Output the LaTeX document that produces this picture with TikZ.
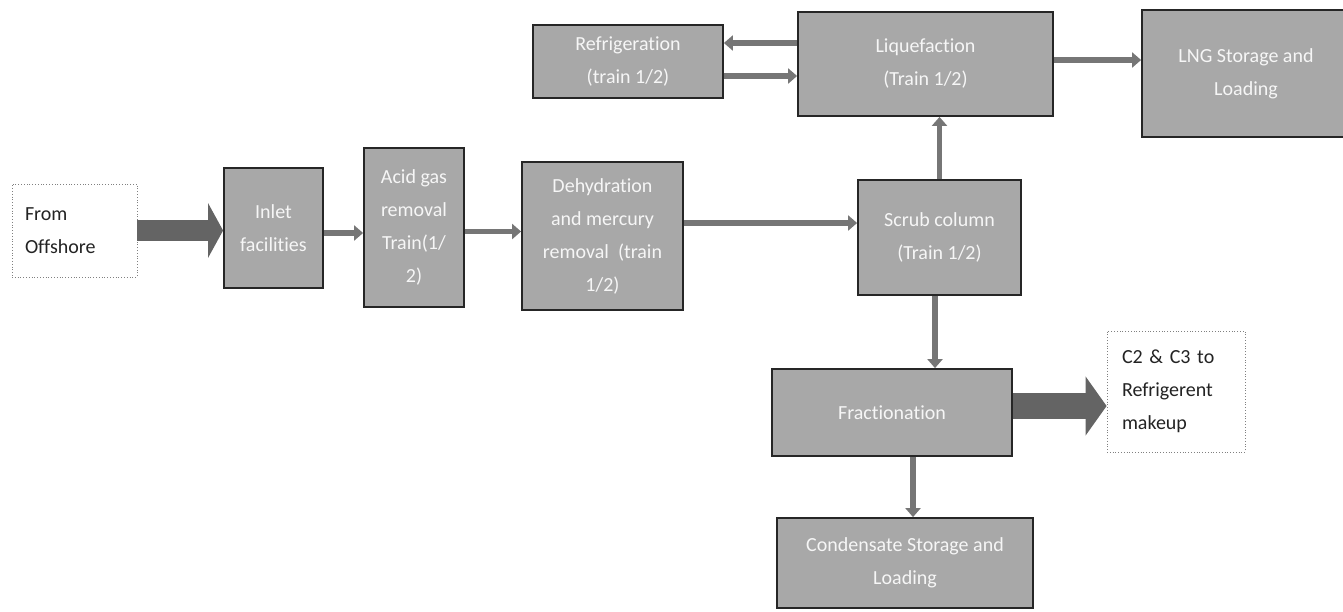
\documentclass[tikz,border=0pt]{standalone}
\usepackage{fontspec}
\setmainfont[Ligatures=NoCommon]{Carlito}
\usetikzlibrary{arrows.meta}
\definecolor{boxgray}{RGB}{168,168,168}
\definecolor{boxtext}{RGB}{246,246,246}
\definecolor{conn}{RGB}{118,118,118}
\definecolor{bigarrow}{RGB}{100,100,100}
\definecolor{txtdark}{RGB}{35,35,35}
\begin{document}
\begin{tikzpicture}[x=1pt,y=-1pt,
  procbox/.style={draw=black!85, line width=1.8pt, fill=boxgray, text=boxtext, align=center, inner sep=0pt, font=\fontsize{20}{33}\selectfont},
  notebox/.style={draw=gray, dotted, line width=0.8pt, fill=white, text=txtdark, align=left, inner sep=0pt, font=\fontsize{20}{33}\selectfont},
  flow/.style={draw=conn, line width=5.5pt, -{Triangle[length=9pt,width=15pt]}},
  bigflowA/.style={draw=bigarrow, line width=21pt, -{Triangle[length=15pt,width=54pt]}},
  bigflowB/.style={draw=bigarrow, line width=26pt, -{Triangle[length=21pt,width=58pt]}}]
\path[use as bounding box, clip] (0,0) rectangle (1343,611);

\node[notebox, minimum width=125pt, minimum height=93pt, text width=99pt] (off) at (74.5,230.5) {From\\Offshore};
\node[procbox, minimum width=99pt, minimum height=120pt] (inlet) at (273.5,228) {Inlet\\facilities};
\node[procbox, minimum width=100pt, minimum height=159pt] (acid) at (414,227.5) {Acid gas\\removal\\Train(1/\\2)};
\node[procbox, minimum width=161pt, minimum height=148pt] (dehyd) at (602.5,236) {Dehydration\\and mercury\\removal\ \ (train\\1/2)};
\node[procbox, minimum width=163pt, minimum height=115pt] (scrub) at (939.5,237.5) {Scrub column\\(Train 1/2)};
\node[procbox, minimum width=190pt, minimum height=73pt] (refrig) at (628,61.5) {Refrigeration\\(train 1/2)};
\node[procbox, minimum width=255pt, minimum height=104pt] (liq) at (925.5,64) {Liquefaction\\(Train 1/2)};
\node[procbox, minimum width=208pt, minimum height=127pt] (lng) at (1246,73.5) {LNG Storage and\\Loading};
\node[procbox, minimum width=240pt, minimum height=87pt] (frac) at (892,412.5) {Fractionation};
\node[notebox, minimum width=138pt, minimum height=121pt, text width=108pt] (c2) at (1176,391.5) {C2 \& C3 to\\Refrigerent\\makeup};
\node[procbox, minimum width=256pt, minimum height=90pt] (cond) at (905,563) {Condensate Storage and\\Loading};

\draw[bigflowA] (off.east) -- (off.east -| inlet.west);
\coordinate (a1) at ([yshift=-5pt]inlet.east);
\draw[flow] (a1) -- (a1 -| acid.west);
\coordinate (a2) at ([yshift=-4pt]acid.east);
\draw[flow] (a2) -- (a2 -| dehyd.west);
\coordinate (a3) at ([yshift=13pt]dehyd.east);
\draw[flow] (a3) -- (a3 -| scrub.west);
\draw[flow] (scrub.north) -- (scrub.north |- liq.south);
\coordinate (a4) at ([xshift=-4.5pt]scrub.south);
\draw[flow] (a4) -- (a4 |- frac.north);
\coordinate (a5) at ([xshift=21pt]frac.south);
\draw[flow] (a5) -- (a5 |- cond.north);
\coordinate (a6) at ([yshift=6.5pt]frac.east);
\draw[bigflowB] (a6) -- (a6 -| c2.west);
\coordinate (l1) at ([yshift=21pt]liq.west);
\draw[flow] (l1) -- (l1 -| refrig.east);
\coordinate (l2) at ([yshift=-12pt]liq.west);
\draw[flow] (l2 -| refrig.east) -- (l2);
\coordinate (l3) at ([yshift=4pt]liq.east);
\draw[flow] (l3) -- (l3 -| lng.west);
\end{tikzpicture}
\end{document}
